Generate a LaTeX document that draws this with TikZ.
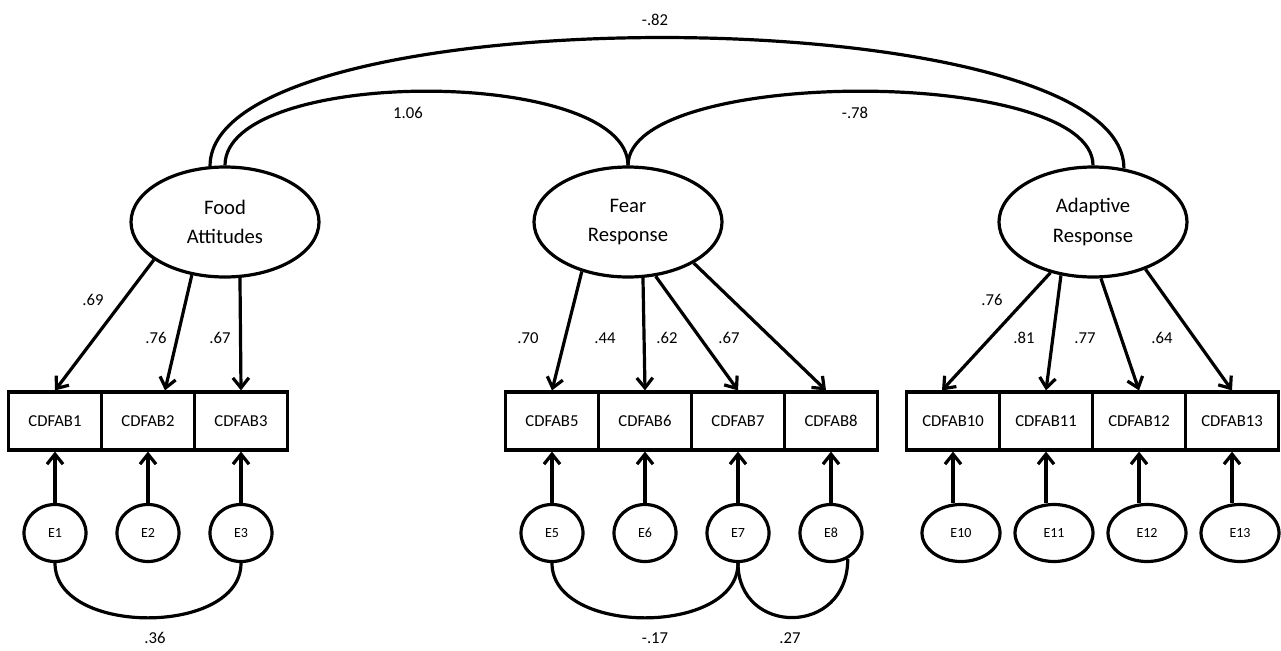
\documentclass[tikz,border=0pt]{standalone}
\usepackage{fontspec}
\setmainfont{Carlito}
\usetikzlibrary{arrows.meta,shapes.geometric}

\tikzset{every picture/.style={line width=2.4pt}}
\tikzset{
  latent/.style={draw, ellipse, minimum width=141pt, minimum height=82.5pt, inner sep=0pt, align=center, font=\fontsize{15.5}{22}\selectfont},
  item/.style={draw, rectangle, minimum width=69.75pt, minimum height=43.5pt, inner sep=0pt, font=\fontsize{12.5}{15}\selectfont},
  err/.style={draw, ellipse, minimum width=46.5pt, minimum height=42.75pt, inner sep=0pt, font=\fontsize{10.5}{12}\selectfont},
  errwide/.style={err, minimum width=58.5pt},
  load/.style={-{Straight Barb[length=7.5pt,width=12pt]}},
  coef/.style={inner sep=0.75pt, font=\fontsize{12.5}{15}\selectfont}
}

\begin{document}
\begin{tikzpicture}[x=0.75pt,y=0.75pt,yscale=-1,xscale=1]
        \path[use as bounding box] (0,0) rectangle (1281,650);

        %Shape: Ellipse (latent factors)
        \node [latent] (FA) at (225,222) {Food\\Attitudes};
        \node [latent] (FR) at (628,222) {Fear\\Response};
        \node [latent] (AR) at (1093,222) {Adaptive\\Response};

        %Shape: Rectangle (items)
        \node [item] (B1) at (55,421) {CDFAB1};
        \node [item] (B2) at (148,421) {CDFAB2};
        \node [item] (B3) at (241,421) {CDFAB3};
        \node [item] (B5) at (552,421) {CDFAB5};
        \node [item] (B6) at (645,421) {CDFAB6};
        \node [item] (B7) at (738,421) {CDFAB7};
        \node [item] (B8) at (831,421) {CDFAB8};
        \node [item] (B10) at (953,421) {CDFAB10};
        \node [item] (B11) at (1046,421) {CDFAB11};
        \node [item] (B12) at (1139,421) {CDFAB12};
        \node [item] (B13) at (1232,421) {CDFAB13};

        %Shape: Ellipse (errors)
        \node [err] (E1) at (55,533) {E1};
        \node [err] (E2) at (148,533) {E2};
        \node [err] (E3) at (241,533) {E3};
        \node [err] (E5) at (552,533) {E5};
        \node [err] (E6) at (645,533) {E6};
        \node [err] (E7) at (738,533) {E7};
        \node [err] (E8) at (831,533) {E8};
        \node [errwide] (E10) at (961,533) {E10};
        \node [errwide] (E11) at (1054,533) {E11};
        \node [errwide] (E12) at (1147,533) {E12};
        \node [errwide] (E13) at (1240,533) {E13};

        %Straight Lines (loadings)
        \draw [load] (FA.208) -- (B1.north);
        \draw [load] (FA.238) -- ([xshift=12.75pt]B2.north);
        \draw [load] (FA.285) -- (B3.north);
        \draw [load] (FR.227) -- (B5.north);
        \draw [load] (FR.285) -- (B6.north);
        \draw [load] (FR.297) -- (B7.north);
        \draw [load] (FR.328) -- ([xshift=-3.75pt]B8.north);
        \draw [load] (AR.230) -- ([xshift=-8.25pt]B10.north);
        \draw [load] (AR.239) -- (B11.north);
        \draw [load] (AR.278) -- (B12.north);
        \draw [load] (AR.318) -- (B13.north);

        %Straight Lines (errors)
        \draw [load] (E1) -- (B1);
        \draw [load] (E2) -- (B2);
        \draw [load] (E3) -- (B3);
        \draw [load] (E5) -- (B5);
        \draw [load] (E6) -- (B6);
        \draw [load] (E7) -- (B7);
        \draw [load] (E8) -- (B8);
        \draw [load] (E10.north -| B10) -- (B10.south);
        \draw [load] (E11.north -| B11) -- (B11.south);
        \draw [load] (E12.north -| B12) -- (B12.south);
        \draw [load] (E13.north -| B13) -- (B13.south);

        %Curve Lines (covariances)
        \draw (FA.north) .. controls +(0,-99) and +(0,-99) .. (FR.north);
        \draw (FR.north) .. controls +(0,-99) and +(0,-99) .. (AR.north);
        \draw (FA.105) .. controls +(0,-173) and +(0,-173) .. (AR.60);
        \draw (E1.south) .. controls +(0,73) and +(0,73) .. (E3.south);
        \draw (E5.south) .. controls +(0,73) and +(0,73) .. (E7.south);
        \draw (E7.south) .. controls +(0,73) and +(0,78) .. (E8.-57);

        \node [coef] (cFA1) at (93,300) {.69};
        \node [coef] (cFA2) at (156,338) {.76};
        \node [coef] (cFA3) at (220,338) {.67};
        \node [coef] (cFR1) at (528,338) {.70};
        \node [coef] (cFR2) at (605,338) {.44};
        \node [coef] (cFR3) at (667,338) {.62};
        \node [coef] (cFR4) at (729,338) {.67};
        \node [coef] (cAR1) at (992,300) {.76};
        \node [coef] (cAR2) at (1024,338) {.81};
        \node [coef] (cAR3) at (1085,338) {.77};
        \node [coef] (cAR4) at (1162,338) {.64};
        \node [coef] (rFAFR) at (408,113) {1.06};
        \node [coef] (rFRAR) at (855,113) {-.78};
        \node [coef] (rFAAR) at (655,20) {-.82};
        \node [coef] (rE1E3) at (155,638) {.36};
        \node [coef] (rE5E7) at (655,638) {-.17};
        \node [coef] (rE7E8) at (790,638) {.27};

\end{tikzpicture}
\end{document}
